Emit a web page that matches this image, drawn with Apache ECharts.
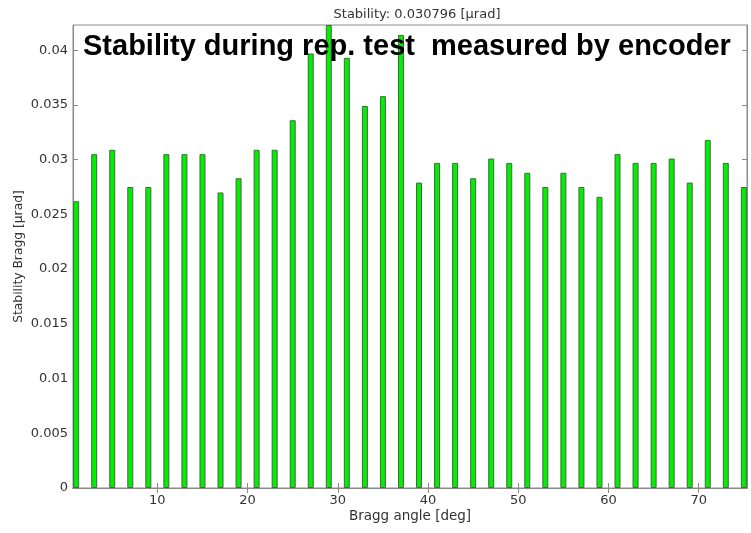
<!DOCTYPE html>
<html><head><meta charset="utf-8">
<script src="https://cdn.jsdelivr.net/npm/echarts@6/dist/echarts.min.js"></script>
<style>html,body{margin:0;padding:0;background:#fff}#c{width:751px;height:533px}</style>
</head><body><div id="c"></div>
<script>
const angles = [1,3,5,7,9,11,13,15,17,19,21,23,25,27,29,31,33,35,37,39,41,43,45,47,49,51,53,55,57,59,61,63,65,67,69,71,73,75];
const stability = [0.0262,0.0305,0.0309,0.0275,0.0275,0.0305,0.0305,0.0305,0.0270,0.0283,0.0309,0.0309,0.0336,0.0397,0.0423,0.0393,0.0349,0.0358,0.0414,0.0279,0.0297,0.0297,0.0283,0.0301,0.0297,0.0288,0.0275,0.0288,0.0275,0.0266,0.0305,0.0297,0.0297,0.0301,0.0279,0.0318,0.0297,0.0275];
const xTicks = [10,20,30,40,50,60,70];
const yTicks = [0,0.005,0.01,0.015,0.02,0.025,0.03,0.035,0.04];
const chart = echarts.init(document.getElementById('c'), null, {renderer:'canvas'});
const axisCol = '#8a8a8a';
const font = 'DejaVu Sans, sans-serif';
const bold = 'Liberation Sans, Arial, sans-serif';
chart.setOption({
  animation:false,
  title:[
    {text:'Stability: 0.030796 [\u03bcrad]', left:412, top:3, textAlign:'center',
     textStyle:{fontFamily:font, fontSize:13, fontWeight:'normal', color:'#333'}},
    {text:'Stability during rep. test  measured by encoder', left:78, top:27,
     textStyle:{fontFamily:bold, fontSize:29, fontWeight:'bold', color:'#000'}}
  ],
  grid:{left:73, right:4, top:25, bottom:45, show:true, borderColor:axisCol, borderWidth:1,
        containLabel:false, outerBoundsMode:'none'},
  xAxis:[
    {type:'value', min:0.65, max:75.35, position:'bottom',
     axisLine:{show:true, lineStyle:{color:axisCol}}, splitLine:{show:false},
     axisTick:{show:true, inside:true, length:5, customValues:xTicks, lineStyle:{color:axisCol}},
     axisLabel:{customValues:xTicks, fontFamily:font, fontSize:13, color:'#333', margin:6},
     name:'Bragg angle [deg]', nameLocation:'middle', nameGap:21, nameMoveOverlap:false,
     nameTextStyle:{fontFamily:font, fontSize:13.5, color:'#333'}},
    {type:'value', min:0.65, max:75.35, position:'top',
     axisLine:{show:true, lineStyle:{color:axisCol}}, splitLine:{show:false},
     axisTick:{show:true, inside:true, length:5, customValues:xTicks, lineStyle:{color:axisCol}},
     axisLabel:{show:false}}
  ],
  yAxis:[
    {type:'value', min:0, max:0.0423, position:'left',
     axisLine:{show:true, lineStyle:{color:axisCol}}, splitLine:{show:false},
     axisTick:{show:true, inside:true, length:5, customValues:yTicks, lineStyle:{color:axisCol}},
     axisLabel:{customValues:yTicks, fontFamily:font, fontSize:13, color:'#333', margin:5,
       formatter:v=>String(+v.toFixed(4))},
     name:'Stability Bragg [\u03bcrad]', nameLocation:'middle', nameGap:48, nameMoveOverlap:false,
     nameTextStyle:{fontFamily:font, fontSize:12.3, color:'#333'}},
    {type:'value', min:0, max:0.0423, position:'right',
     axisLine:{show:true, lineStyle:{color:axisCol}}, splitLine:{show:false},
     axisTick:{show:true, inside:true, length:5, customValues:yTicks, lineStyle:{color:axisCol}},
     axisLabel:{show:false}}
  ],
  series:[{
    type:'bar', xAxisIndex:0, yAxisIndex:0, barWidth:6,
    data: angles.map((a,i)=>[a, stability[i]]),
    itemStyle:{color:'#00f000', borderColor:'#4a644a', borderWidth:1},
    clip:true
  }]
});
</script></body></html>
